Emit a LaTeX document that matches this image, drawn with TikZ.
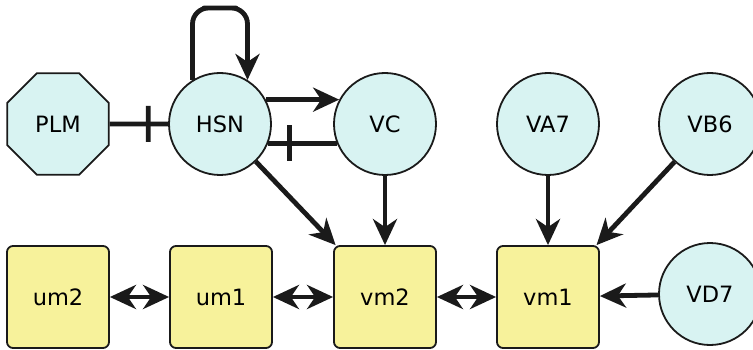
\documentclass[tikz,border=0pt]{standalone}
\usepackage{fontspec}
\setmainfont{DejaVu Sans}
\usetikzlibrary{arrows.meta,shapes.geometric}
\definecolor{cellcyan}{HTML}{D8F3F2}
\definecolor{cellyellow}{HTML}{F7F29B}
\definecolor{ink}{HTML}{1A1A1A}
\begin{document}
\begin{tikzpicture}[x=1pt, y=-1pt, >={Stealth[length=26pt,width=24pt,inset=8pt]}, font=\fontsize{22.5}{26}\selectfont, line join=round,
	neuron/.style={circle, draw=ink, line width=1.8pt, fill=cellcyan, minimum size=102pt, inner sep=0},
	sensor/.style={regular polygon, regular polygon sides=8, draw=ink, line width=1.8pt, fill=cellcyan, minimum size=110pt, inner sep=0},
	muscle/.style={rectangle, rounded corners=6pt, draw=ink, line width=1.8pt, fill=cellyellow, minimum size=102pt, inner sep=0},
	edge/.style={line width=4.8pt, draw=ink},
	tee/.style={fill=ink, minimum width=4.8pt, minimum height=36pt, inner sep=0, sloped}]
	\useasboundingbox (0,0) rectangle (753,350);
	
	% cells
	\node[sensor] (PLM) at (58,124) {PLM};
	\node[neuron] (HSN) at (220,124) {HSN};
	\node[neuron] (VC) at (385,124) {VC};
	\node[neuron] (VA7) at (548,124) {VA7};
	\node[neuron] (VB6) at (710,124) {VB6};
	\node[neuron] (VD7) at (710,294) {VD7};
	
	\node[muscle] (um2) at (58,297) {um2};
	\node[muscle] (um1) at (221,297) {um1};
	\node[muscle] (vm2) at (385,297) {vm2};
	\node[muscle] (vm1) at (548,297) {vm1};
	
	% connections
	\coordinate (loop) at (220,8);
	\draw[edge, ->, rounded corners=16pt] (HSN.122) |- (loop) -| (HSN.58);
	\draw[edge] (PLM) -- (HSN) node[tee, pos=0.66] {};
	\draw[edge, ->] (HSN.28) -- (VC.152);
	\draw[edge] (VC.202) -- (HSN.-22) node[tee, pos=0.69] {};
	\draw[edge, ->] (HSN) -- (vm2);
	
	\foreach \a/\b in {VC/vm2, VA7/vm1, VB6/vm1, VD7/vm1}
		\draw[edge, ->] (\a) -- (\b);
	
	\foreach \a/\b in {um2/um1, um1/vm2, vm2/vm1}
		\draw[edge, <->] (\a) -- (\b);
\end{tikzpicture}
\end{document}
